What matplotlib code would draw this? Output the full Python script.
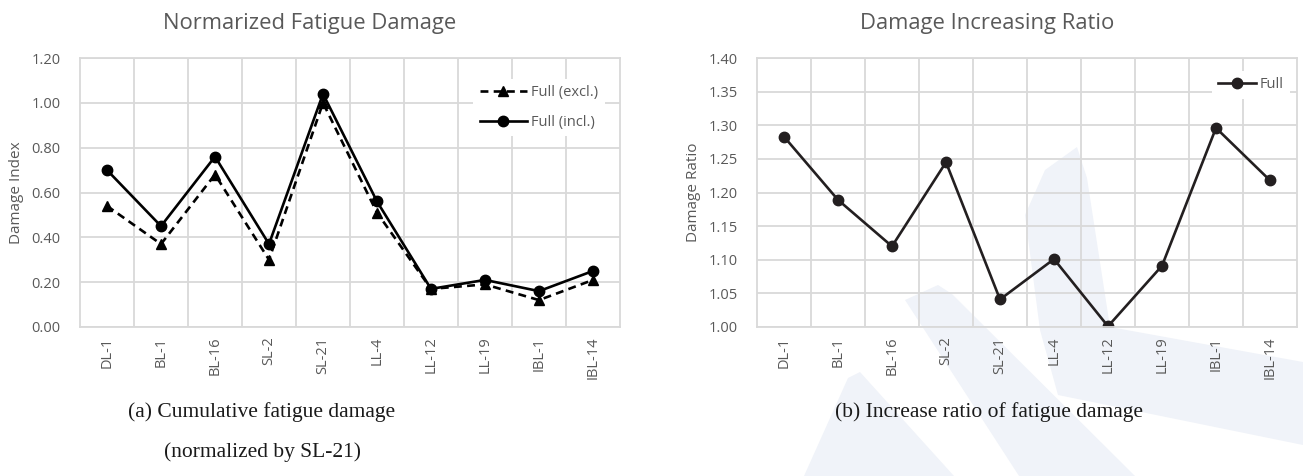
import matplotlib
matplotlib.use("Agg")
import matplotlib.pyplot as plt
from matplotlib.patches import Polygon

categories = ["DL-1", "BL-1", "BL-16", "SL-2", "SL-21", "LL-4", "LL-12", "LL-19", "IBL-1", "IBL-14"]
full_excl = [0.54, 0.37, 0.68, 0.30, 1.00, 0.51, 0.17, 0.19, 0.12, 0.21]
full_incl = [0.70, 0.45, 0.76, 0.37, 1.04, 0.56, 0.17, 0.21, 0.16, 0.25]
ratio_full = [1.283, 1.189, 1.120, 1.245, 1.041, 1.101, 1.001, 1.091, 1.296, 1.218]

W, H = 1303, 476
fig = plt.figure(figsize=(W / 100, H / 100), dpi=100)

# faint watermark shapes behind everything
bg = fig.add_axes([0, 0, 1, 1], zorder=-10)
bg.set_xlim(0, W)
bg.set_ylim(H, 0)
bg.axis("off")
wm = "#f0f3f9"
for pts in [
    [(1025, 215), (1045, 170), (1077, 147), (1087, 178), (1110, 327), (1303, 362),
     (1303, 445), (1058, 395), (1040, 330)],
    [(905, 300), (938, 285), (952, 294), (1135, 476), (1019, 476)],
    [(848, 378), (860, 372), (954, 476), (804, 476)],
]:
    bg.add_patch(Polygon(pts, closed=True, facecolor=wm, edgecolor="none"))

tick_font = "Open Sans"
gray = "#595959"
grid_c = "#d9d9d9"
fs_tick = 10.5

def style(ax, ylim, yticks, ylabel):
    ax.set_facecolor("none")
    ax.set_ylim(*ylim)
    ax.set_yticks(yticks)
    ax.set_yticklabels([f"{v:.2f}" for v in yticks], fontsize=fs_tick, color=gray, family=tick_font)
    ax.set_xlim(-0.5, len(categories) - 0.5)
    ax.set_xticks(range(len(categories)))
    ax.set_xticklabels(categories, rotation=90, fontsize=fs_tick, color=gray, family=tick_font)
    ax.set_xticks([i + 0.5 for i in range(len(categories) - 1)], minor=True)
    ax.grid(True, which="major", axis="y", color=grid_c, lw=1.3)
    ax.grid(True, which="minor", axis="x", color=grid_c, lw=1.3)
    ax.tick_params(which="both", length=0)
    ax.tick_params(axis="y", pad=14)
    ax.tick_params(axis="x", pad=7)
    for s in ax.spines.values():
        s.set_color(grid_c)
        s.set_linewidth(1.3)
    ax.set_ylabel(ylabel, fontsize=11, color=gray, family=tick_font, labelpad=5)
    ax.set_axisbelow(True)

x = range(len(categories))

# left
ax1 = fig.add_axes([80 / W, 1 - 327 / H, 540 / W, 269 / H])
ax1.plot(x, full_excl, color="black", lw=1.9, marker="^", ms=7.5, label="Full (excl.)", dashes=(3, 2))
ax1.plot(x, full_incl, color="black", ls="-", lw=1.9, marker="o", ms=7.5, label="Full (incl.)")
style(ax1, (0, 1.2), [0, 0.2, 0.4, 0.6, 0.8, 1.0, 1.2], "Damage Index")
leg = ax1.legend(loc="upper right", bbox_to_anchor=(0.985, 0.95), frameon=True,
                 prop={"family": tick_font, "size": fs_tick}, handlelength=3.2, labelspacing=1.0,
                 borderpad=0.45, handletextpad=0.3, fancybox=False)
leg.get_frame().set_edgecolor("none")
leg.get_frame().set_facecolor("white")
leg.get_frame().set_alpha(1)
for t in leg.get_texts():
    t.set_color(gray)

# right
ax2 = fig.add_axes([757 / W, 1 - 327 / H, 540 / W, 269 / H])
ax2.plot(x, ratio_full, color="#231f20", ls="-", lw=1.9, marker="o", ms=7.5, label="Full")
style(ax2, (1.0, 1.4), [1.0, 1.05, 1.1, 1.15, 1.2, 1.25, 1.3, 1.35, 1.4], "Damage Ratio")
leg2 = ax2.legend(loc="upper right", bbox_to_anchor=(1.0, 0.98), frameon=True,
                  prop={"family": tick_font, "size": fs_tick}, handlelength=2.6,
                  borderpad=0.45, handletextpad=0.2, fancybox=False)
leg2.get_frame().set_edgecolor("none")
leg2.get_frame().set_facecolor("white")
leg2.get_frame().set_alpha(1)
for t in leg2.get_texts():
    t.set_color(gray)

fig.text(310 / W, 1 - 29 / H, "Normarized Fatigue Damage", ha="center", va="baseline",
         fontsize=15.8, color=gray, family=tick_font)
fig.text(987 / W, 1 - 29 / H, "Damage Increasing Ratio", ha="center", va="baseline",
         fontsize=15.8, color=gray, family=tick_font)

serif = "Liberation Serif"
fig.text(262 / W, 1 - 412 / H, "(a) Cumulative fatigue damage", ha="center", va="center",
         fontsize=15.5, family=serif, color="#1a1a1a")
fig.text(262 / W, 1 - 452 / H, "(normalized by SL-21)", ha="center", va="center",
         fontsize=15.5, family=serif, color="#1a1a1a")
fig.text(989 / W, 1 - 412 / H, "(b) Increase ratio of fatigue damage", ha="center", va="center",
         fontsize=15.5, family=serif, color="#1a1a1a")

fig.savefig("out.png", dpi=100)
